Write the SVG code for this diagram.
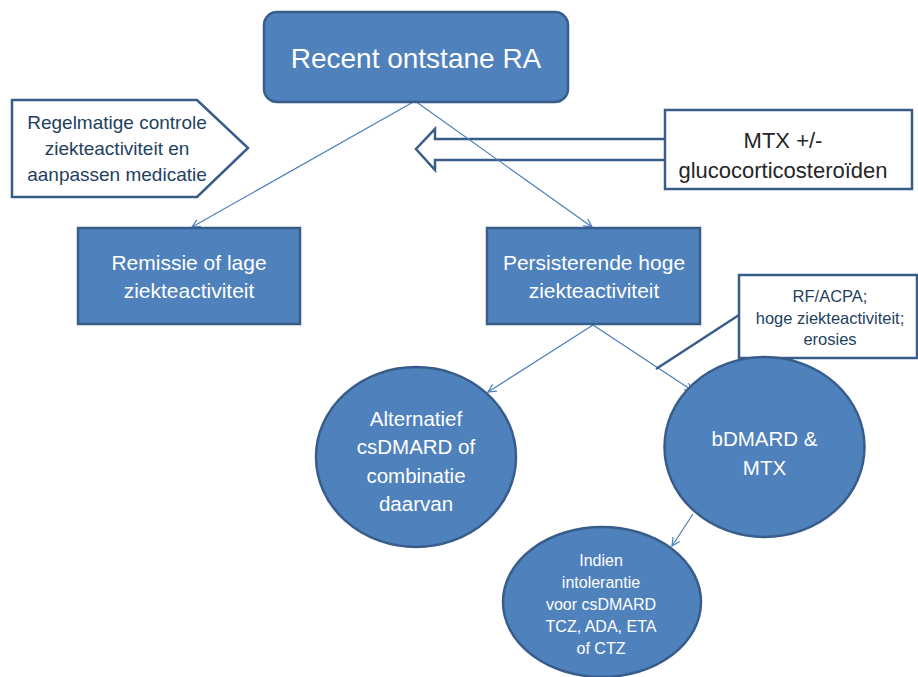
<svg xmlns="http://www.w3.org/2000/svg" width="918" height="677" viewBox="0 0 918 677">
<defs>
<marker id="arr" viewBox="0 0 10 10" refX="9" refY="5" markerWidth="10" markerHeight="10" markerUnits="userSpaceOnUse" orient="auto">
<path d="M1,1 L9,5 L1,9" fill="none" stroke="#4A7EBB" stroke-width="1.2"/>
</marker>
<style>
.blue{fill:#4F81BD;stroke:#385D8A;stroke-width:2.5}
.wbox{fill:#FFFFFF;stroke:#385D8A;stroke-width:2.5}
.con{fill:none;stroke:#4A7EBB;stroke-width:1.2;marker-end:url(#arr)}
text{font-family:"Liberation Sans",Arial,sans-serif;text-anchor:middle}
.wt{fill:#FFFFFF}
.nv{fill:#243F60}
.dk{fill:#262626}
</style>
</defs>
<rect width="918" height="677" fill="#FFFFFF"/>
<g id="mtx-arrow">
<polyline points="665,139 435,139 435,129 416,149 435,170 435,160 665,160" fill="#FFFFFF" stroke="#385D8A" stroke-width="2.5"/>
</g>
<g id="connectors">
<line class="con" x1="415" y1="101" x2="192" y2="227"/>
<line class="con" x1="415" y1="101" x2="592" y2="227"/>
<line class="con" x1="593" y1="325" x2="488" y2="392"/>
<line class="con" x1="593" y1="325" x2="693" y2="391"/>
<line class="con" x1="693" y1="514" x2="672" y2="546"/>
<line x1="739" y1="315" x2="656" y2="369" stroke="#385D8A" stroke-width="2.5"/>
</g>
<g id="recent">
<rect class="blue" x="264" y="12" width="304" height="90" rx="13"/>
<text class="wt" x="416" y="68" font-size="28">Recent ontstane RA</text>
</g>
<g id="regelmatige">
<polygon class="wbox" points="12,100 197,100 248,148 197,197 12,197"/>
<text class="nv" font-size="19"><tspan x="117" y="129">Regelmatige controle</tspan><tspan x="117" y="155">ziekteactiviteit en</tspan><tspan x="117" y="181">aanpassen medicatie</tspan></text>
</g>
<g id="mtx">
<rect class="wbox" x="665" y="110" width="247" height="79"/>
<text class="dk" font-size="22"><tspan x="783" y="148">MTX +/-</tspan><tspan x="783" y="178">glucocorticosteroïden</tspan></text>
</g>
<g id="remissie">
<rect class="blue" x="78" y="228" width="222" height="96"/>
<text class="wt" font-size="21"><tspan x="189" y="270">Remissie of lage</tspan><tspan x="189" y="298">ziekteactiviteit</tspan></text>
</g>
<g id="persisterende">
<rect class="blue" x="487" y="228" width="213" height="96"/>
<text class="wt" font-size="21"><tspan x="594" y="270">Persisterende hoge</tspan><tspan x="594" y="298">ziekteactiviteit</tspan></text>
</g>
<g id="rfacpa">
<rect class="wbox" x="739" y="275" width="178" height="83"/>
<text class="nv" font-size="16.5"><tspan x="830" y="302">RF/ACPA;</tspan><tspan x="830" y="324">hoge ziekteactiviteit;</tspan><tspan x="830" y="345">erosies</tspan></text>
</g>
<g id="alternatief">
<ellipse class="blue" cx="416" cy="457" rx="100" ry="90"/>
<text class="wt" font-size="20.5"><tspan x="416" y="426">Alternatief</tspan><tspan x="416" y="454">csDMARD of</tspan><tspan x="416" y="483">combinatie</tspan><tspan x="416" y="511">daarvan</tspan></text>
</g>
<g id="bdmard">
<ellipse class="blue" cx="764.5" cy="447" rx="100" ry="90"/>
<text class="wt" font-size="20.5"><tspan x="764.5" y="446">bDMARD &amp;</tspan><tspan x="764.5" y="475">MTX</tspan></text>
</g>
<g id="indien">
<ellipse class="blue" cx="602" cy="602" rx="99" ry="75"/>
<text class="wt" font-size="16"><tspan x="601" y="566">Indien</tspan><tspan x="601" y="588">intolerantie</tspan><tspan x="601" y="610">voor csDMARD</tspan><tspan x="601" y="632">TCZ, ADA, ETA</tspan><tspan x="601" y="654">of CTZ</tspan></text>
</g>
</svg>
